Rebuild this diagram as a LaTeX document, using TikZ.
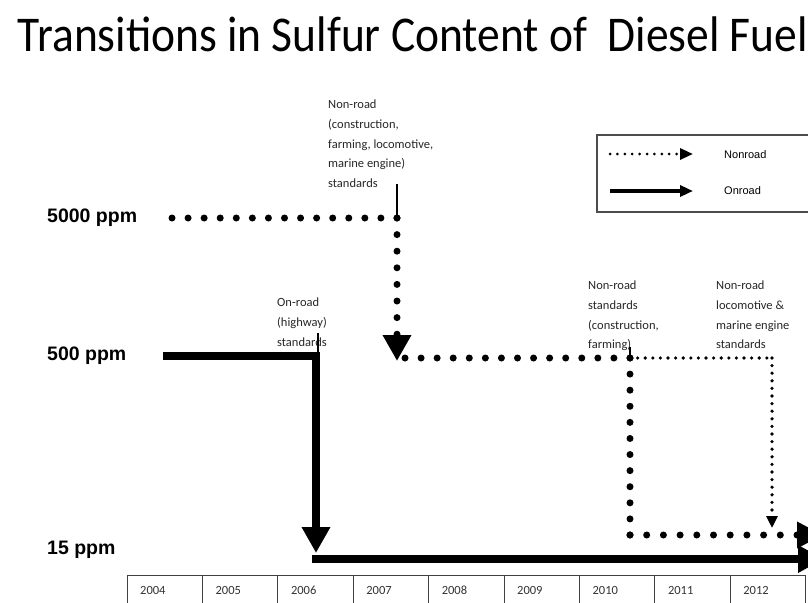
\documentclass[tikz,border=0pt]{standalone}
\usepackage{fontspec}
\setmainfont{Carlito}
\newfontfamily\arialf{Liberation Sans}
\usetikzlibrary{arrows.meta}
\begin{document}
\begin{tikzpicture}[x=1pt,y=-1pt,
  bigdots/.style={line width=7pt, line cap=round, dash pattern=on 0pt off 16.07pt},
  smalldots/.style={line width=3.6pt, line cap=round, dash pattern=on 0pt off 7.6pt},
  legdots/.style={line width=3pt, line cap=round, dash pattern=on 0pt off 7.4pt},
  onroadline/.style={line width=8pt},
  bigtip/.style={-{Triangle[length=26pt,width=27pt]}},
  smalltip/.style={-{Triangle[length=12pt,width=11pt]}},
  legtip/.style={-{Triangle[length=13pt,width=11pt]}},
  leader/.style={line width=1.2pt},
  lbl/.style={font=\fontsize{12.5}{19.6}\selectfont, align=left, inner sep=0pt, anchor=north west, text=black!85},
  ppm/.style={font=\arialf\bfseries\fontsize{19.5}{20}\selectfont, anchor=west, inner sep=0pt},
  legtxt/.style={font=\arialf\fontsize{11}{12}\selectfont, anchor=west, inner sep=0pt},
  yeartxt/.style={font=\fontsize{12.5}{13}\selectfont, anchor=base west, inner sep=0pt, text=black!80},
  cell/.style={draw=black!75, line width=1pt}
]
\useasboundingbox (0,0) rectangle (808,602);

% title
\node (title) [anchor=base, inner sep=0pt, font=\fontsize{45.5}{46}\selectfont] at (413,52)
  {\scalebox{1}[1.1]{Transitions in Sulfur Content of~~Diesel Fuel}};

% level labels
\node (p5000) [ppm] at (47,218) {5000 ppm};
\node (p500)  [ppm] at (47,356) {500 ppm};
\node (p15)   [ppm] at (47,550) {15 ppm};

% annotation labels
\node (lnr1) [lbl] at (328,100) {Non-road\\(construction,\\farming, locomotive,\\marine engine)\\standards};
\node (lon)  [lbl] at (277,298) {On-road\\(highway)\\standards};
\node (lnr2) [lbl] at (588,281) {Non-road\\standards\\(construction,\\farming)};
\node (lnr3) [lbl] at (716,281) {Non-road\\locomotive \&\\marine engine\\standards};

% key points
\coordinate (a0) at (172,218);
\coordinate (a1) at (397,218);
\coordinate (a2) at (397,361);
\coordinate (b0) at (405,358);
\coordinate (b1) at (630,358);
\coordinate (b2) at (772,358);
\coordinate (b3) at (772,528);
\coordinate (c1) at (630,535);
\coordinate (c2) at (823,535);
\coordinate (d0) at (163,356);
\coordinate (d1) at (316,356);
\coordinate (d2) at (316,553);
\coordinate (e0) at (312,559);
\coordinate (e1) at (824,559);

% leader lines
\draw[leader] (lnr1.south west -| a1) ++(0,-4) -- (a1);
\draw[leader] (318,333) -- (318,356);
\draw[leader] (630,347) -- (b1);

% nonroad (dotted)
\draw[bigdots] (a0) -- (a1);
\draw[bigdots, bigtip, dash pattern=on 0pt off 16.6pt] (a1) -- (a2);
\draw[bigdots] (b0) -- (b1);
\draw[smalldots] (b1) -- (b2);
\draw[smalldots, smalltip] (b2) -- (b3);
\draw[bigdots, dash pattern=on 0pt off 16.09pt] (b1) -- (c1);
\draw[bigdots, dash pattern=on 0pt off 16.7pt, -{Triangle[length=26pt,width=25pt]}] (c1) -- (c2);

% onroad (solid)
\draw[onroadline, line join=miter] (d0) -- (d1) -- (316,527);
\draw[onroadline, bigtip] (d1) -- (d2);
\draw[onroadline, -{Triangle[length=26pt,width=26pt]}] (e0) -- (e1);

% legend
\node (legend) [draw=black!70, line width=2pt, anchor=north west, minimum width=222pt, minimum height=77pt, inner sep=0pt] at (596,134) {};
\coordinate (g0) at (610,154);
\coordinate (g1) at (693,154);
\coordinate (h0) at (610,191);
\coordinate (h1) at (693,191);
\draw[legdots, legtip] (g0) -- (g1);
\draw[line width=4pt, legtip] (h0) -- (h1);
\node (legnr) [legtxt] at (724,155) {Nonroad};
\node (legon) [legtxt] at (724,191) {Onroad};

% year table
\foreach \yr [count=\i from 0] in {2004,2005,2006,2007,2008,2009,2010,2011,2012} {
  \draw[cell] ({127+75.4*\i},575) rectangle ({127+75.4*(\i+1)},608);
  \node (y\yr) [yeartxt] at ({140+75.4*\i},594) {\yr};
}
\end{tikzpicture}
\end{document}
